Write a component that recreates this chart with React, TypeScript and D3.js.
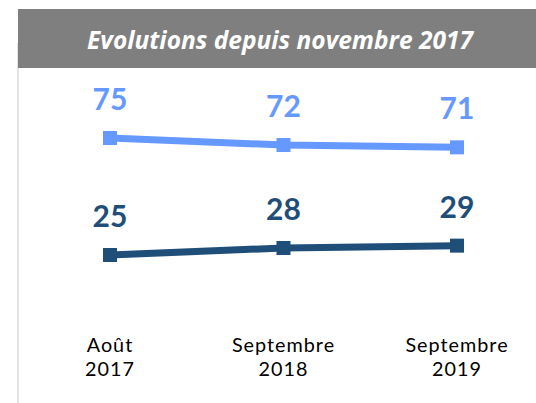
import * as d3 from "d3";

const periods = ["Août 2017", "Septembre 2018", "Septembre 2019"];
const periodLines = [
  ["Août", "2017"],
  ["Septembre", "2018"],
  ["Septembre", "2019"],
];
const upperValues = [75, 72, 71];
const lowerValues = [25, 28, 29];
const title = "Evolutions depuis novembre 2017";

const width = 536;
const height = 403;
const font = "Lato, 'Open Sans', sans-serif";
const textFont = "'Open Sans', Lato, sans-serif";

const series = [
  { values: upperValues, color: "#6699ff" },
  { values: lowerValues, color: "#1f4e79" },
];

const App = () => {
  const x = d3.scalePoint<string>().domain(periods).range([110, 457]);
  const y = d3.scaleLinear().domain([0, 100]).range([313.5, 79.5]);

  const line = d3
    .line<number>()
    .x((_, i) => x(periods[i]) as number)
    .y((d) => y(d));

  return (
    <svg
      width={width}
      height={height}
      style={{ position: "absolute", left: 0, top: 0 }}
    >
      <rect x={0} y={0} width={width} height={height} fill="#fff" />
      <line x1={18} x2={18} y1={43} y2={height} stroke="#e3e3e3" strokeWidth={2} />
      <rect x={18} y={9} width={width - 18} height={59} fill="#7f7f7f" />
      <text
        x={280}
        y={49}
        textAnchor="middle"
        fill="#fff"
        fontFamily={textFont}
        fontWeight="bold"
        fontStyle="italic"
        fontSize={24.5}
      >
        {title}
      </text>

      {series.map((s, si) => (
        <g key={si}>
          <path d={line(s.values) ?? ""} fill="none" stroke={s.color} strokeWidth={7} />
          {s.values.map((v, i) => (
            <g key={i}>
              <rect
                x={(x(periods[i]) as number) - 7}
                y={y(v) - 7}
                width={14}
                height={14}
                fill={s.color}
              />
              <text
                x={x(periods[i])}
                y={y(v) - 28}
                textAnchor="middle"
                fill={s.color}
                fontFamily={font}
                fontWeight="bold"
                fontSize={30}
              >
                {v}
              </text>
            </g>
          ))}
        </g>
      ))}

      {periods.map((p, i) =>
        periodLines[i].map((part, j) => (
          <text
            key={p + j}
            x={x(p)}
            y={352 + j * 24}
            textAnchor="middle"
            fill="#000"
            fontFamily={font}
            fontSize={19.8}
            letterSpacing={1}
          >
            {part}
          </text>
        ))
      )}
    </svg>
  );
};

export default App;
